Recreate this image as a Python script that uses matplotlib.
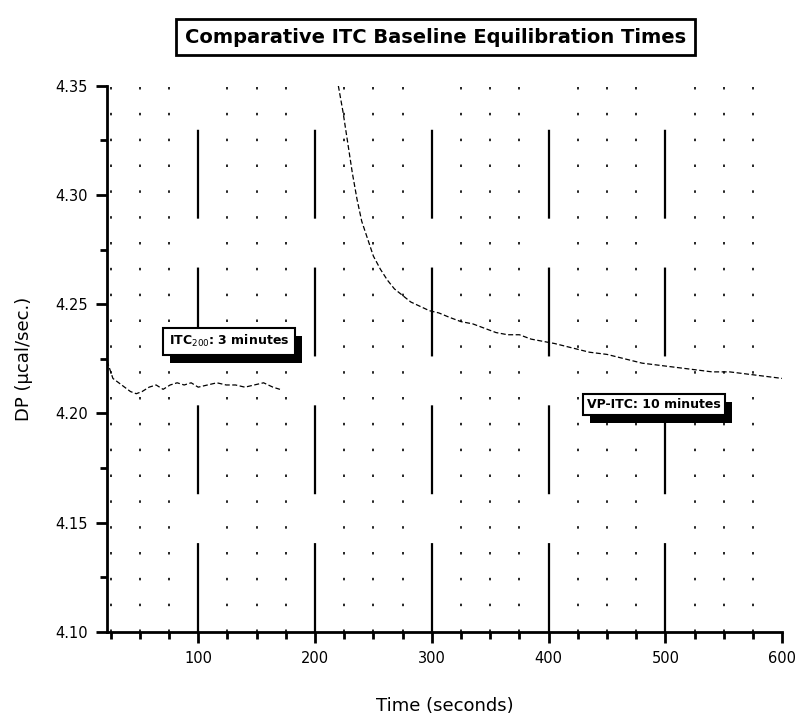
import matplotlib
matplotlib.use('Agg')
import matplotlib.pyplot as plt
from matplotlib.ticker import MultipleLocator
from matplotlib.patches import Rectangle
from matplotlib.transforms import IdentityTransform

# ITC200 baseline (time in s, DP in ucal/sec)
itcT = [22, 27, 32, 37, 42, 47, 52, 58, 64, 70, 76, 82, 88, 94, 100, 108, 116, 124, 132, 140, 148, 156, 164, 170]
itcY = [4.224, 4.216, 4.214, 4.212, 4.210, 4.209, 4.210, 4.212, 4.213, 4.211, 4.213, 4.214, 4.213, 4.214, 4.212,
        4.213, 4.214, 4.213, 4.213, 4.212, 4.213, 4.214, 4.212, 4.211]

# VP-ITC baseline
vpT = [220, 224, 228, 232, 236, 240, 245, 250, 256, 262, 268, 275, 282, 290, 298, 306, 315, 325, 335,
       345, 355, 365, 375, 385, 395, 405, 420, 435, 450, 465, 480, 495, 510, 525, 540, 555, 570, 585, 600]
vpY = [4.350, 4.338, 4.324, 4.310, 4.298, 4.288, 4.280, 4.272, 4.266, 4.261, 4.257, 4.254, 4.251, 4.249,
       4.247, 4.246, 4.244, 4.242, 4.241, 4.239, 4.237, 4.236, 4.236, 4.234, 4.233, 4.232, 4.230, 4.228,
       4.227, 4.225, 4.223, 4.222, 4.221, 4.220, 4.219, 4.219, 4.218, 4.217, 4.216]

xTicks = [100, 200, 300, 400, 500, 600]
yTicks = [4.10, 4.15, 4.20, 4.25, 4.30, 4.35]

fig = plt.figure(figsize=(7.99, 7.27), dpi=100)
ax = fig.add_axes([0.134, 0.131, 0.845, 0.751])

# grid: broken solid at major, sparse dots at minor
for x in xTicks[:-1]:
    ax.axvline(x, color='black', lw=1.6, ls=(0, (40, 22)), zorder=1)
for x in range(25, 600, 25):
    if x % 100:
        ax.axvline(x, color='black', lw=1.2, ls=(0, (1.5, 14)), zorder=1)

ax.plot(itcT, itcY, color='black', lw=0.9, ls=(0, (4, 2)), zorder=3)
ax.plot(vpT, vpY, color='black', lw=0.9, ls=(0, (4, 2)), zorder=3)

ax.set_xlim(22, 600)
ax.set_ylim(4.10, 4.35)
ax.set_xticks(xTicks)
ax.set_yticks(yTicks)
ax.set_yticklabels(['%.2f' % v for v in yTicks])
ax.xaxis.set_minor_locator(MultipleLocator(25))
ax.yaxis.set_minor_locator(MultipleLocator(0.025))
ax.tick_params(which='major', direction='out', length=8, width=2, labelsize=10.5, pad=6)
ax.tick_params(which='minor', direction='out', length=5, width=2)
for s in ['top', 'right']:
    ax.spines[s].set_visible(False)
for s in ['left', 'bottom']:
    ax.spines[s].set_linewidth(2)

ax.set_xlabel('Time (seconds)', fontsize=13, labelpad=22)
ax.set_ylabel('DP (\u00b5cal/sec.)', fontsize=13, labelpad=16)

labs = []
labs.append(ax.text(75, 4.233, r'ITC$_{200}$: 3 minutes', fontsize=9, fontweight='bold',
                    ha='left', va='center', zorder=6,
                    bbox=dict(boxstyle='square,pad=0.45', fc='white', ec='black', lw=1.5)))
labs.append(ax.text(433, 4.204, 'VP-ITC: 10 minutes', fontsize=9, fontweight='bold',
                    ha='left', va='center', zorder=6,
                    bbox=dict(boxstyle='square,pad=0.3', fc='white', ec='black', lw=1.5)))

ttl = fig.text(0.545, 0.949, 'Comparative ITC Baseline Equilibration Times', fontsize=14,
               fontweight='bold', ha='center', va='center',
               bbox=dict(boxstyle='square,pad=0.45', fc='white', ec='black', lw=2))

# drop shadows behind the label boxes
fig.canvas.draw()
for t in labs:
    bb = t.get_bbox_patch().get_window_extent()
    ax.add_patch(Rectangle((bb.x0 + 7, bb.y0 - 8), bb.width, bb.height, transform=IdentityTransform(),
                           fc='black', ec='none', zorder=5, clip_on=False))

fig.savefig('out.png', dpi=100)
